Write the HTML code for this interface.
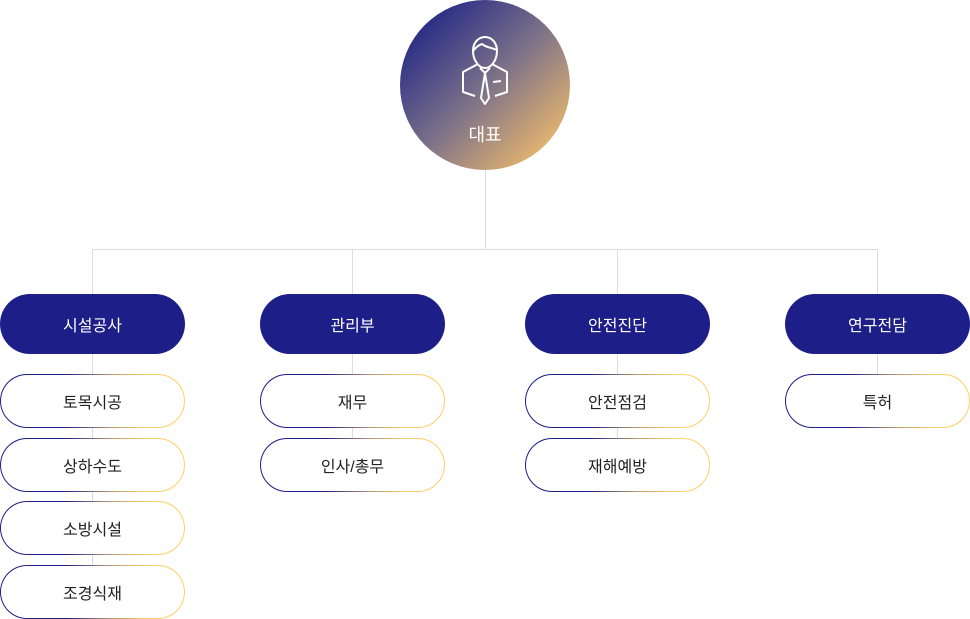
<!DOCTYPE html>
<html><head><meta charset="utf-8"><style>
body{margin:0;width:970px;height:619px;background:#fff;position:relative;overflow:hidden;font-family:"Liberation Sans","Noto Sans CJK KR",sans-serif}
.l{position:absolute;background:#dcdcdc}
.c{position:absolute;left:400px;top:0;width:170px;height:170px;border-radius:50%;background:linear-gradient(135deg,#262a86 12%,#7a7089 50%,#f2bd6c 92%)}
.c span{position:absolute;left:0;right:0;top:121px;text-align:center;color:#fff;font-size:18px}
.h{position:absolute;width:185px;height:60px;top:294px;border-radius:30px;background:#1e1e88;color:#fff;font-size:16px;display:flex;align-items:center;justify-content:center}
.s{position:absolute;width:183px;height:52px;border-radius:27px;border:1px solid transparent;background:linear-gradient(#fff,#fff) padding-box,linear-gradient(90deg,#1e1e88 0%,#1e1e88 35%,#b89870 60%,#ffd06a 80%) border-box;color:#222;font-size:16px;display:flex;align-items:center;justify-content:center}
</style></head><body>
<div class="l" style="left:485px;top:170px;width:1px;height:80px"></div>
<div class="l" style="left:92px;top:249px;width:786px;height:1px"></div>
<div class="l" style="left:92px;top:249px;width:1px;height:340px"></div>
<div class="l" style="left:352px;top:249px;width:1px;height:210px"></div>
<div class="l" style="left:617px;top:249px;width:1px;height:210px"></div>
<div class="l" style="left:877px;top:249px;width:1px;height:140px"></div>
<div class="c">
<svg style="position:absolute;left:60px;top:35px" width="50" height="72" viewBox="0 0 50 72" fill="none" stroke="#fff" stroke-width="2" stroke-linejoin="round">
<path d="M13 16c0-9 6-14 12-14s12 5 12 14c0 8-5 17-12 17s-12-9-12-17z"/>
<path d="M13 16c3-4 6-6 9-7c3 3 10 4 15 6"/>
<path d="M18 29l-15 8v20l12 4M32 29l15 8v20l-12 4"/>
<path d="M20 33l5 5 5-5M25 38l-4 25 4 6 4-6-4-25"/>
<path d="M33 47l8-1"/>
</svg>
<span>대표</span></div>
<div class="h" style="left:0">시설공사</div>
<div class="h" style="left:260px">관리부</div>
<div class="h" style="left:525px">안전진단</div>
<div class="h" style="left:785px">연구전담</div>
<div class="s" style="left:0;top:374px">토목시공</div>
<div class="s" style="left:0;top:438px">상하수도</div>
<div class="s" style="left:0;top:501px">소방시설</div>
<div class="s" style="left:0;top:565px">조경식재</div>
<div class="s" style="left:260px;top:374px">재무</div>
<div class="s" style="left:260px;top:438px">인사/총무</div>
<div class="s" style="left:525px;top:374px">안전점검</div>
<div class="s" style="left:525px;top:438px">재해예방</div>
<div class="s" style="left:785px;top:374px">특허</div>
</body></html>
